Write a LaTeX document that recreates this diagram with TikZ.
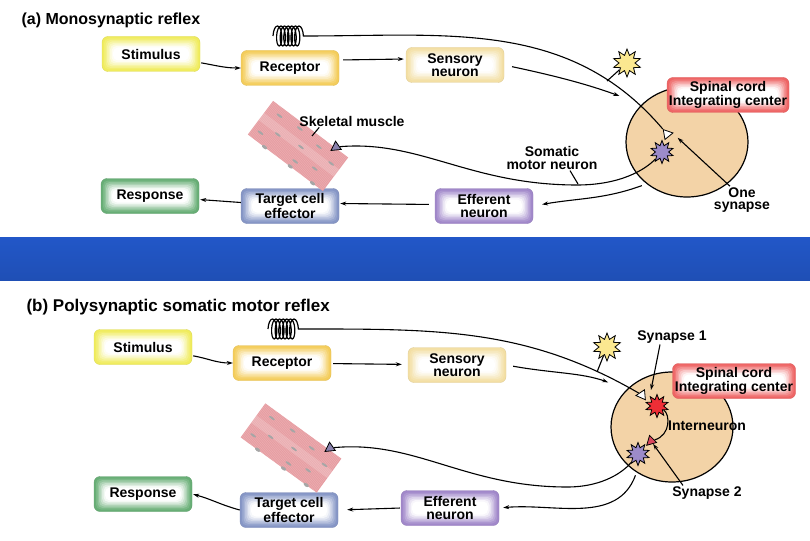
\documentclass[tikz,border=0pt]{standalone}
\usepackage{fontspec}
\setmainfont{Liberation Sans}
\usetikzlibrary{arrows.meta,shapes.geometric,decorations.pathmorphing}
\definecolor{stimcol}{HTML}{F0EC5E}
\definecolor{reccol}{HTML}{F4CD5C}
\definecolor{sencol}{HTML}{F3DFA4}
\definecolor{cordcol}{HTML}{EE6565}
\definecolor{effcol}{HTML}{A188CA}
\definecolor{tarcol}{HTML}{8696C6}
\definecolor{rescol}{HTML}{68AE76}
\definecolor{tancol}{HTML}{F3D3A7}
\definecolor{bandtop}{HTML}{2257C8}
\definecolor{bandbot}{HTML}{1F4FB5}
\definecolor{musccol}{HTML}{E69DA2}
\definecolor{musclight}{HTML}{EEB4B7}
\definecolor{yelcell}{HTML}{FBE890}
\definecolor{purcell}{HTML}{9C8BC9}
\definecolor{redcell}{HTML}{EE2E36}
\definecolor{redend}{HTML}{D9475E}
\definecolor{endcol}{HTML}{8A82AE}

\begin{document}
\begin{tikzpicture}[x=1pt,y=1pt,
    box/.style={rounded corners=6pt,minimum width=98pt,minimum height=35pt,inner sep=0pt,align=center,
      font=\fontsize{14}{12.5}\selectfont\bfseries,fill=#1,draw=#1!92!black,line width=0.4pt,
      path picture={\foreach \gap/\mix in {2/12,3.5/28,5/45,6.5/62,8/78,9.5/92,11/100}
        \fill[white!\mix!#1,rounded corners=5pt] ([shift={(\gap,-\gap)}]path picture bounding box.north west)
          rectangle ([shift={(-\gap,\gap)}]path picture bounding box.south east);}},
    tag/.style={font=\fontsize{14}{12.5}\selectfont\bfseries,align=center,inner sep=1pt},
    cell/.style={star,star points=10,star point ratio=1.75,minimum size=23pt,inner sep=0pt,draw,line width=0.8pt,fill=#1},
    term/.style={isosceles triangle,isosceles triangle stretches,minimum width=10pt,minimum height=9pt,inner sep=0pt,
      draw,line width=0.8pt,fill=#1},
    cord/.style={ellipse,draw,line width=1.2pt,fill=tancol,minimum width=122pt,minimum height=110pt},
    spring/.style={decorate,decoration={coil,aspect=0.35,segment length=3.6pt,amplitude=10pt},line width=1.2pt},
    arr/.style={line width=1.1pt,-{Stealth[length=6pt,width=4pt]}},
    ln/.style={line width=1.1pt},
    muscle/.pic={
      \fill[musccol] (-47,-21) rectangle (47,21);
      \foreach \s in {-46,-44.5,...,46} \draw[musclight,line width=0.3pt] (\s,-21) -- (\s,21);
      \fill[white,opacity=0.18] (-47,-3) rectangle (47,6);
      \foreach \u/\v in {-33/13,-9/15,17/12,37/6,-23/-3,3/1,27/-8,-38/-12,7/-14}
        \fill[gray!70] (\u,\v) ellipse [x radius=3.5,y radius=1.1];
      \foreach \u in {-26,6,34} \fill[gray!70] (\u,-21) ellipse [x radius=3,y radius=1.6];
    }]
  \useasboundingbox (0,0) rectangle (810,-540);
  \shade[top color=bandtop,bottom color=bandbot] (0,-237) rectangle (810,-280);

  \node[anchor=west,font=\fontsize{16}{16}\selectfont\bfseries] (Ha) at (18,-20) {(a) Monosynaptic reflex};
  \node[box=stimcol] (Sa) at (151,-54) {Stimulus};
  \node[box=reccol] (Ra) at (290,-68) {Receptor};
  \node[box=sencol] (Na) at (455,-65) {Sensory\\neuron};
  \node[cord] (Ca) at (687,-142) {};
  \node[box=cordcol,minimum width=122pt] (La) at (728,-95) {Spinal cord\\Integrating center};
  \node[box=effcol] (Ea) at (484,-206) {Efferent\\neuron};
  \node[box=tarcol] (Ta) at (290,-206) {Target cell\\effector};
  \node[box=rescol] (Pa) at (150,-196) {Response};
  \pic[rotate=-37] at (298,-146) {muscle};
  \draw[spring] (273,-36) -- (304,-36);
  \coordinate (Ka) at (304,-36);
  \node[cell=yelcell,minimum size=28pt] (Ya) at (627,-63) {};
  \node[cell=purcell] (Ma) at (662,-152) {};
  \node[term=white,rotate=10] (Wa) at (667,-134) {};
  \node[term=endcol,rotate=215] (Ua) at (336,-147) {};
  \node[tag] (Qa) at (352,-121) {Skeletal muscle};
  \node[tag] (Da) at (552,-158) {Somatic\\motor neuron};
  \node[tag] (Oa) at (742,-200) {One\\synapse};
  \coordinate (Ja) at (607,-81);
  \coordinate (Ga) at (312,-136);
  \coordinate (Fa) at (578,-184);
  \draw[ln] (Ka) to[out=0,in=130] (Wa);
  \draw[ln] (Ya) -- (Ja);
  \draw[ln] (Ma) .. controls (645,-170) and (620,-185) .. (577,-185) .. controls (470,-185) and (420,-140) .. (Ua);
  \draw[ln] ([xshift=21pt]Qa.south west) -- (Ga);
  \draw[ln] ([xshift=18pt]Da.south) -- (Fa);
  \draw[arr,shorten <=1pt] (Sa) to[out=-10,in=180] (Ra);
  \draw[arr,shorten <=4pt,shorten >=2pt] ([yshift=8pt]Ra.east) -- ([yshift=6pt]Na.west);
  \draw[arr,shorten <=8pt,shorten >=24pt] (Na.east) to[out=-12,in=160] (Ca.140);
  \draw[arr,shorten <=5pt,shorten >=9pt] (Ca.-134) to[out=-160,in=10] (Ea.east);
  \draw[arr,shorten <=6pt,shorten >=1pt] ([yshift=1.5pt]Ea.west) -- ([yshift=2.5pt]Ta.east);
  \draw[arr,shorten >=1pt] (Ta) -- (Pa);
  \draw[arr] ([xshift=-12pt]Oa.north) -- ([xshift=10pt]Wa.south);

  \node[anchor=west,font=\fontsize{17}{17}\selectfont\bfseries] (Hb) at (23,-307) {(b) Polysynaptic somatic motor reflex};
  \node[box=stimcol] (Sb) at (143,-347) {Stimulus};
  \node[box=reccol] (Rb) at (282,-363) {Receptor};
  \node[box=sencol] (Nb) at (457,-365) {Sensory\\neuron};
  \node[cord] (Cb) at (672,-427) {};
  \node[box=cordcol,minimum width=123pt] (Lb) at (734,-381) {Spinal cord\\Integrating center};
  \node[box=effcol] (Eb) at (450,-508) {Efferent\\neuron};
  \node[box=tarcol] (Tb) at (289,-510) {Target cell\\effector};
  \node[box=rescol] (Pb) at (143,-494) {Response};
  \pic[rotate=-36] at (291,-448) {muscle};
  \draw[spring] (268,-329) -- (299,-329);
  \coordinate (Kb) at (299,-329);
  \node[cell=yelcell,minimum size=28pt] (Yb) at (607,-347) {};
  \node[cell=redcell] (Ib) at (657,-406) {};
  \node[cell=purcell] (Mb) at (638,-454) {};
  \node[term=white,rotate=185] (Wb) at (642,-395) {};
  \node[term=redend,rotate=225] (Vb) at (651,-441) {};
  \node[term=endcol,rotate=215] (Ub) at (330,-448) {};
  \node[tag] (Xb) at (672,-337) {Synapse 1};
  \node[tag] (Ab) at (707,-426) {Interneuron};
  \node[tag] (Zb) at (707,-493) {Synapse 2};
  \coordinate (Jb) at (597,-372);
  \draw[ln] (Kb) to[out=0,in=150] (Wb);
  \draw[ln] (Yb) -- (Jb);
  \draw[ln] (Ib) .. controls (670,-414) and (671,-435) .. (Vb);
  \draw[ln] (Mb) .. controls (625,-470) and (605,-487) .. (567,-487) .. controls (465,-487) and (415,-440) .. (Ub);
  \draw[arr,shorten <=1pt] (Sb) to[out=-10,in=180] (Rb);
  \draw[arr,shorten <=2pt,shorten >=6pt] (Rb) -- (Nb);
  \draw[arr,shorten <=7pt,shorten >=20pt] (Nb.east) to[out=-10,in=160] (Cb.140);
  \draw[arr,shorten <=3pt,shorten >=4pt] (Cb.-128) to[out=-110,in=5] (Eb.east);
  \draw[arr,shorten <=1pt,shorten >=9pt] (Eb.west) -- (Tb.east);
  \draw[arr,shorten >=1pt] (Tb.west) to[out=165,in=-15] (Pb.east);
  \draw[arr] ([xshift=-12pt]Xb.south) -- ([shift={(9pt,5pt)}]Wb.center);
  \draw[arr] ([xshift=-24pt]Zb.north) -- (Vb);
\end{tikzpicture}
\end{document}
